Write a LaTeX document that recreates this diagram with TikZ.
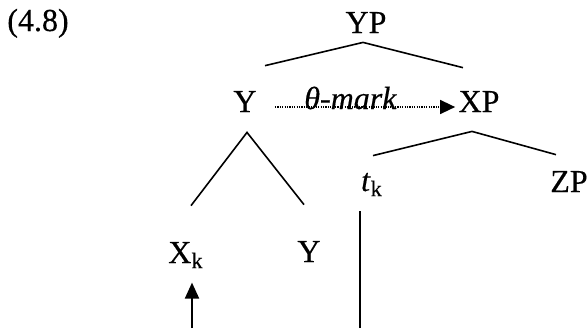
\documentclass[tikz,border=0pt]{standalone}
\usepackage{fontspec}
\setmainfont{Liberation Serif}[FakeBold=0.4, ItalicFeatures={FakeBold=0.4}]
\usetikzlibrary{arrows.meta}

\begin{document}
\begin{tikzpicture}[x=0.5pt, y=-0.5pt, font=\fontsize{16}{19}\selectfont,
  lbl/.style={inner sep=0pt, anchor=base},
  branch/.style={line width=0.8pt},
  mark line/.style={line width=0.7pt, dash pattern=on 0.6pt off 0.6pt, -{Triangle[length=7.5pt, width=7pt]}},
  move/.style={line width=1pt, -{Triangle[length=8pt, width=7pt]}}]
  \useasboundingbox (0,0) rectangle (588,328);
  \node[lbl] (ex) at (38,31) {(4.8)};
  \node[lbl] (yp) at (366,33) {YP};
  \node[lbl] (y) at (245,112) {Y};
  \node[lbl] (xp) at (479,112) {XP};
  \node[lbl] (tk) at (372,191) {\textit{t}\textsubscript{k}};
  \node[lbl] (zp) at (569,192) {ZP};
  \node[lbl] (xk) at (186,263) {X\textsubscript{k}};
  \node[lbl] (yy) at (309,262) {Y};
  % tree
  \draw[branch] ([shift={(20,-25)}]y.north) -- ([shift={(-3,9)}]yp.south) -- ([shift={(-16,-23)}]xp.north);
  \draw[branch] ([shift={(5,-36)}]xk.north) -- ([shift={(2,20)}]y.south) -- ([shift={(-5,-36)}]yy.north);
  \draw[branch] ([shift={(1,-17)}]tk.north) -- ([shift={(-7,19)}]xp.south) -- ([shift={(-13,-16)}]zp.north);
  % theta-marking
  \draw[mark line] ([shift={(18,-5)}]y.base east) -- node[lbl, pos=0.42, yshift=-1pt] {\textit{θ-mark}} ([shift={(-3,-5)}]xp.base west);
  % movement
  \coordinate (xk-foot) at (192,328);
  \coordinate (tk-foot) at (360,328);
  \draw[move, shorten >=7pt] (xk-foot) -- (xk-foot |- xk.south);
  \draw[branch, shorten >=7pt] (tk-foot) -- (tk-foot |- tk.south);
\end{tikzpicture}
\end{document}
